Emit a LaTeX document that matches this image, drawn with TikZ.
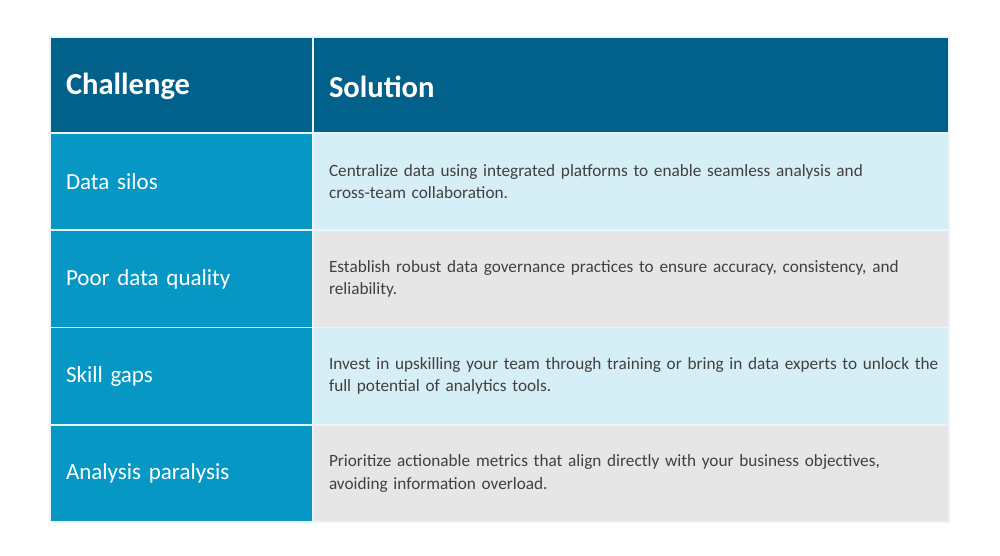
\documentclass[tikz,border=0pt]{standalone}
\usepackage{fontspec}
\setmainfont{Carlito}
\usetikzlibrary{positioning}
\definecolor{headblue}{HTML}{01618A}
\definecolor{cellblue}{HTML}{0797C5}
\definecolor{lightrow}{HTML}{D6EEF6}
\definecolor{grayrow}{HTML}{E6E6E6}
\definecolor{bodytext}{HTML}{404040}
\definecolor{rule}{HTML}{E8F5FA}
\tikzset{
  cell/.style={draw=rule, line width=1pt, outer sep=0pt, inner xsep=0.32cm, inner ysep=0pt, align=left, minimum height=1.945cm},
  left col/.style={cell, text width=4.62cm, fill=cellblue, text=white, font=\fontsize{13.1}{15}\selectfont},
  right col/.style={cell, text width=12.08cm, text=bodytext, font=\fontsize{9.8}{12.7}\selectfont},
  head/.style={cell, minimum height=1.92cm, text height=14pt, fill=headblue, text=white, font=\fontsize{17.4}{20}\selectfont\bfseries}
}
\begin{document}
\begin{tikzpicture}
    \useasboundingbox[fill=white] (0,0) rectangle (20,-11.1);
    \node [head, text width=4.62cm, anchor=north west] (chead) at (1,-0.74) {Challenge};
    \node [head, text width=12.08cm, right=0pt of chead] (shead) {Solution};

    \node [left col, below=0pt of chead] (c1) {Data silos};
    \node [left col, below=0pt of c1] (c2) {Poor data quality};
    \node [left col, below=0pt of c2] (c3) {Skill gaps};
    \node [left col, below=0pt of c3] (c4) {Analysis paralysis};

    \node [right col, fill=lightrow, right=0pt of c1] (s1) {Centralize data using integrated platforms to enable seamless analysis and\\cross-team collaboration.};
    \node [right col, fill=grayrow, right=0pt of c2] (s2) {Establish robust data governance practices to ensure accuracy, consistency, and\\reliability.};
    \node [right col, fill=lightrow, right=0pt of c3] (s3) {\mbox{Invest in upskilling your team through training or bring in data experts to unlock the}\\full potential of analytics tools.};
    \node [right col, fill=grayrow, right=0pt of c4] (s4) {Prioritize actionable metrics that align directly with your business objectives,\\avoiding information overload.};
\end{tikzpicture}
\end{document}
